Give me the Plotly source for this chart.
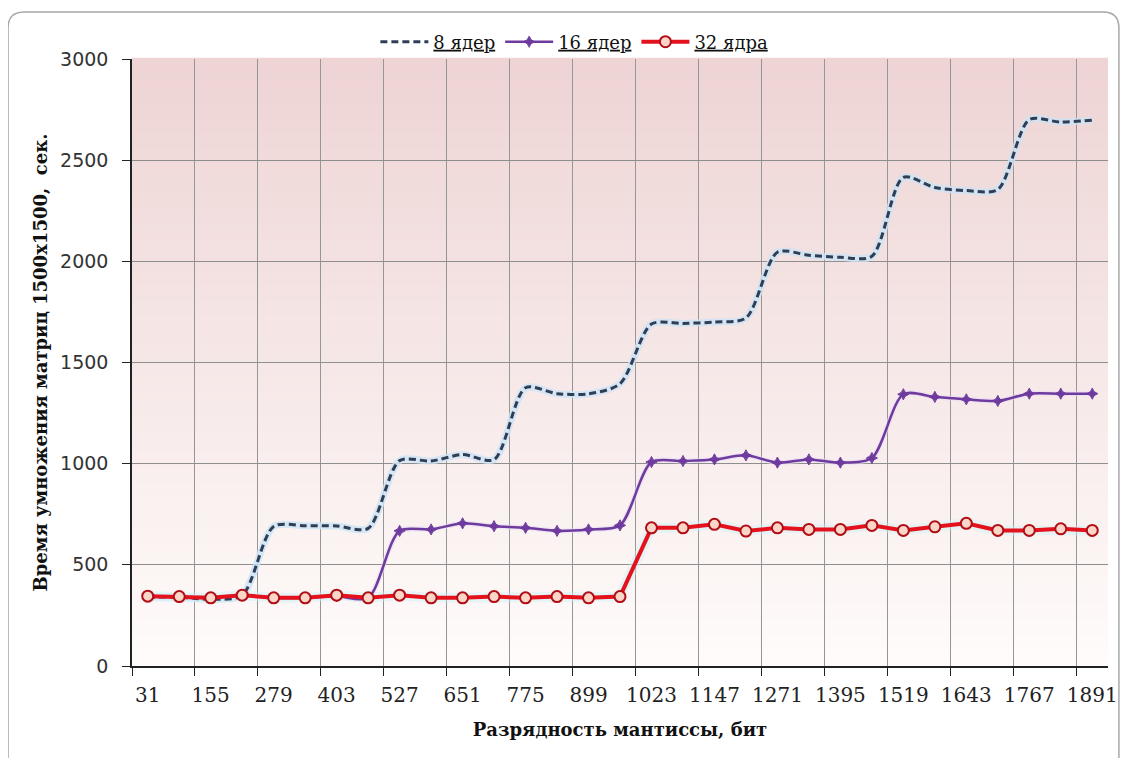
import plotly.graph_objects as go

# ---- data ----
mantissa_bits = [31, 93, 155, 217, 279, 341, 403, 465, 527, 589, 651, 713, 775, 837, 899, 961,
                 1023, 1085, 1147, 1209, 1271, 1333, 1395, 1457, 1519, 1581, 1643, 1705, 1767, 1829, 1891]

cores8 = [340, 340, 330, 350, 690, 693, 692, 680, 1015, 1013, 1045, 1020, 1375, 1346, 1345, 1395,
          1690, 1693, 1700, 1720, 2045, 2030, 2020, 2025, 2415, 2365, 2350, 2355, 2700, 2688, 2698]

cores16 = [345, 343, 337, 350, 337, 337, 345, 337, 668, 675, 705, 691, 683, 668, 675, 695,
           1008, 1013, 1021, 1041, 1005, 1021, 1005, 1028, 1343, 1330, 1318, 1310, 1346, 1346, 1346]

cores32 = [345, 343, 337, 350, 337, 337, 350, 337, 350, 337, 337, 343, 337, 343, 337, 343,
           683, 683, 700, 667, 683, 675, 675, 695, 670, 688, 705, 670, 670, 678, 670]

series_names = ["<u>8 ядер</u>", "<u>16 ядер</u>", "<u>32 ядра</u>"]
x_title = "Разрядность мантиссы, бит"
y_title = "Время умножения матриц 1500x1500,  сек."

# ---- layout geometry (page pixels; page body has an 8px margin) ----
OFF = 8
W, H = 1130 - OFF, 758 - OFF
L, R, T, B = 132, 1116, 59, 666
pw, ph = R - L, B - T


def px_x(p):
    return (p - L) / pw


def px_y(p):
    return (B - p) / ph


fig = go.Figure()

# glow underlays
fig.add_trace(go.Scatter(x=mantissa_bits, y=cores8, mode="lines", showlegend=False, hoverinfo="skip",
                         line=dict(color="rgba(205,228,245,0.8)", width=7, shape="spline", smoothing=0.8)))
fig.add_trace(go.Scatter(x=mantissa_bits, y=cores16, mode="lines", showlegend=False, hoverinfo="skip",
                         line=dict(color="rgba(228,218,245,0.6)", width=5, shape="spline", smoothing=0.8)))
fig.add_trace(go.Scatter(x=mantissa_bits, y=cores32, mode="lines", showlegend=False, hoverinfo="skip",
                         line=dict(color="rgba(205,240,245,0.45)", width=10)))

fig.add_trace(go.Scatter(
    x=mantissa_bits, y=cores8, name=series_names[0], mode="lines",
    line=dict(color="#2f3e56", width=3, dash="7px,4px", shape="spline", smoothing=0.8)))
fig.add_trace(go.Scatter(
    x=mantissa_bits, y=cores16, name=series_names[1], mode="lines+markers",
    line=dict(color="#6f3a9e", width=2.5, shape="spline", smoothing=0.8),
    marker=dict(symbol="star-diamond", size=8, color="#6f3a9e", line=dict(color="#6f3a9e", width=1))))
fig.add_trace(go.Scatter(
    x=mantissa_bits, y=cores32, name=series_names[2], mode="lines+markers",
    line=dict(color="#e3121c", width=4),
    marker=dict(symbol="circle", size=11, color="#fbd6c8", line=dict(color="#b00d14", width=2))))

# gradient background bands
shapes = []
n = 80
top_c = (238, 212, 212)
bot_c = (254, 251, 250)
for i in range(n):
    f = i / (n - 1)
    c = tuple(round(top_c[k] + (bot_c[k] - top_c[k]) * f) for k in range(3))
    y1 = 1 - i / n
    y0 = 1 - (i + 1) / n
    shapes.append(dict(type="rect", xref="paper", yref="paper", x0=0, x1=1, y0=y0, y1=y1 + 0.002,
                       fillcolor="rgb(%d,%d,%d)" % c, line=dict(width=0), layer="below"))

# outer rounded border
bx0, bx1, by0, by1 = px_x(7), px_x(1127), px_y(12), px_y(790)
rx, ry = 16 / pw, 16 / ph
path = (f"M {bx0},{by0 - ry} L {bx0},{by1} "
        f"M {bx0},{by0 - ry} Q {bx0},{by0} {bx0 + rx},{by0} "
        f"L {bx1 - rx},{by0} Q {bx1},{by0} {bx1},{by0 - ry} L {bx1},{by1}")
shapes.append(dict(type="path", xref="paper", yref="paper", path=path,
                   line=dict(color="#a8a8a8", width=1.5), layer="above"))

fig.update_layout(
    width=W, height=H,
    margin=dict(l=L - OFF, r=1130 - R, t=T - OFF, b=758 - B),
    paper_bgcolor="white", plot_bgcolor="white",
    shapes=shapes,
    showlegend=True,
    legend=dict(orientation="h", x=px_x(578), xanchor="center", y=px_y(42), yanchor="middle",
                font=dict(family="DejaVu Serif", size=18, color="#111"),
                bgcolor="rgba(0,0,0,0)", itemwidth=48, traceorder="normal"),
    xaxis=dict(
        range=[0, 1922], tickmode="linear", tick0=31, dtick=124, ticks="",
        showgrid=False, zeroline=False, showline=True, linecolor="#222", linewidth=1.5,
        ticklabelstandoff=10,
        tickfont=dict(family="DejaVu Serif", size=20, color="#222"),
        minor=dict(tickmode="linear", tick0=124, dtick=124, ticks="outside", ticklen=8,
                   tickcolor="#222", showgrid=True, gridcolor="#969696", gridwidth=1),
        title=dict(text=x_title, standoff=18,
                   font=dict(family="DejaVu Serif", size=18, color="#111", weight="bold")),
    ),
    yaxis=dict(
        range=[0, 3000], tickmode="linear", tick0=0, dtick=500,
        ticks="outside", ticklen=8, tickcolor="#222",
        showgrid=True, gridcolor="#8e8e8e", gridwidth=1, zeroline=False,
        showline=True, linecolor="#222", linewidth=1.5,
        ticklabelstandoff=10,
        tickfont=dict(family="DejaVu Sans", size=19, color="#333"),
        title=dict(text=y_title, standoff=8,
                   font=dict(family="DejaVu Serif", size=18, color="#111", weight="bold")),
    ),
)

fig.write_html("out.html")
